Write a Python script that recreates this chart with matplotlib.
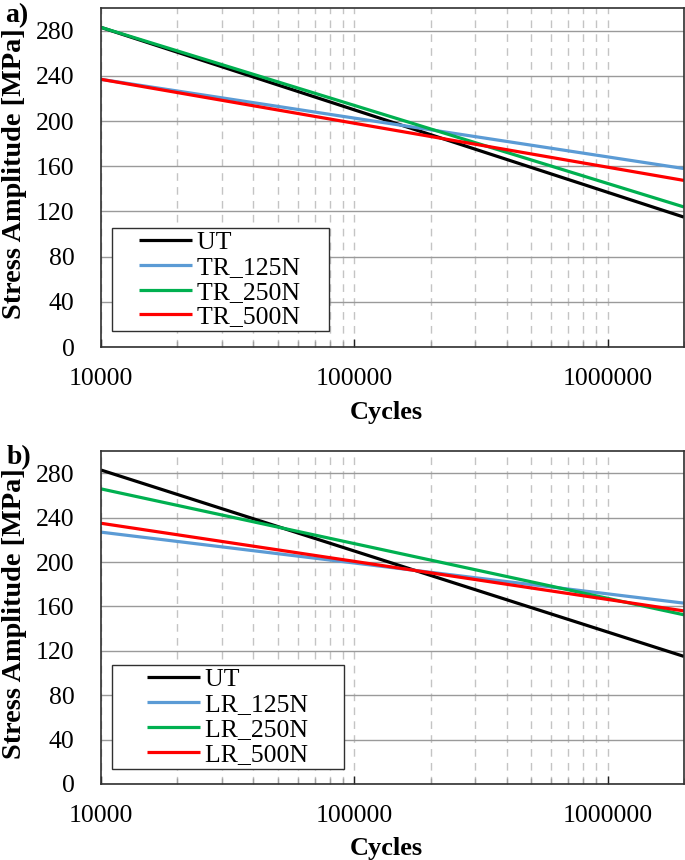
import matplotlib

matplotlib.use("Agg")
import matplotlib.pyplot as plt
from matplotlib.legend_handler import HandlerLine2D
from matplotlib.ticker import FixedLocator, LogLocator, NullFormatter


# cycles at the two ends of each fitted S-N line (straight on a log x axis)
CYCLES = [1e4, 2e6]

UT = [283, 115]
TR_125N = [237, 158]
TR_250N = [283, 124]
TR_500N = [237, 147.5]
LR_125N = [227, 163]
LR_250N = [266, 152.5]
LR_500N = [235, 156]

TR_NAMES = ["UT", "TR_125N", "TR_250N", "TR_500N"]
LR_NAMES = ["UT", "LR_125N", "LR_250N", "LR_500N"]

X_TICKS = [1e4, 1e5, 1e6]
X_TICK_LABELS = ["10000", "100000", "1000000"]
Y_TICKS = [0, 40, 80, 120, 160, 200, 240, 280]

COLORS = ["#000000", "#5B9BD5", "#00B050", "#FF0000"]

plt.rcParams["font.family"] = ["Liberation Serif", "DejaVu Serif"]


class LeadLineHandler(HandlerLine2D):
    """Legend line that leaves an empty lead-in before the coloured stroke."""

    def __init__(self, lead, **kwargs):
        super().__init__(**kwargs)
        self.lead = lead

    def get_xdata(self, legend, xdescent, ydescent, width, height, fontsize):
        xdata, xdata_marker = super().get_xdata(legend, xdescent, ydescent, width, height, fontsize)
        start = xdata[0] + self.lead * (xdata[-1] - xdata[0])
        return [start, xdata[-1]], xdata_marker


def draw_panel(ax, series, names, lead, handle_len, tail):
    lines = []
    for values, name, color in zip(series, names, COLORS):
        (ln,) = ax.plot(CYCLES, values, color=color, lw=2.3, label=name,
                        solid_capstyle="butt")
        lines.append(ln)

    ax.set_xscale("log")
    ax.set_xlim(1e4, 2e6)
    ax.set_ylim(0, 300)

    ax.xaxis.set_major_locator(FixedLocator(X_TICKS))
    ax.set_xticklabels(X_TICK_LABELS)
    ax.xaxis.set_minor_locator(LogLocator(base=10, subs=range(2, 10)))
    ax.xaxis.set_minor_formatter(NullFormatter())
    ax.set_yticks(Y_TICKS)

    ax.grid(axis="y", color="#9A9A9A", lw=1.0)
    ax.grid(axis="x", which="both", color="#C4C4C4", lw=1.0, ls=(0, (5.5, 4.5)))
    ax.set_axisbelow(True)

    ax.tick_params(axis="x", which="major", direction="in", length=6, width=1,
                   color="#202020", labelsize=18.5, pad=15)
    ax.tick_params(axis="x", which="minor", direction="in", length=4, width=1,
                   color="#A0A0A0")
    ax.tick_params(axis="y", length=0, labelsize=18.5, pad=19)

    for spine in ax.spines.values():
        spine.set_color("#303030")
        spine.set_linewidth(1.2)

    ax.set_xlabel("Cycles", fontsize=19, fontweight="bold")
    ax.set_ylabel("Stress Amplitude [MPa]", fontsize=20.3, fontweight="bold")
    ax.yaxis.set_label_coords(-0.127, 0.512)
    ax.xaxis.set_label_coords(0.49, -0.158)

    labels = [name + " " * tail for name in names]
    handler = LeadLineHandler(lead)
    leg = ax.legend(lines, labels, loc="lower left", bbox_to_anchor=(0.019, 0.046),
                    borderaxespad=0, fontsize=18.5, frameon=True, fancybox=False,
                    framealpha=1, edgecolor="#303030", handlelength=handle_len,
                    handletextpad=0.2, labelspacing=0.07, borderpad=0.12,
                    handler_map={ln: handler for ln in lines})
    leg.get_frame().set_linewidth(1.0)
    return leg


def main():
    fig = plt.figure(figsize=(6.85, 8.6), dpi=100)
    ax_top = fig.add_axes([0.1474, 0.5965, 0.851, 0.394])
    ax_bot = fig.add_axes([0.1474, 0.0884, 0.851, 0.387])

    draw_panel(ax_top, [UT, TR_125N, TR_250N, TR_500N], TR_NAMES,
               lead=0.31, handle_len=3.0, tail=4)
    draw_panel(ax_bot, [UT, LR_125N, LR_250N, LR_500N], LR_NAMES,
               lead=0.37, handle_len=3.3, tail=5)

    fig.text(5 / 685, 1 - 3 / 860, "a)", fontsize=20, fontweight="bold",
             ha="left", va="top")
    fig.text(7 / 685, 1 - 445 / 860, "b)", fontsize=20, fontweight="bold",
             ha="left", va="top")

    fig.savefig("out.png", dpi=100)
    plt.close(fig)


if __name__ == "__main__":
    main()
